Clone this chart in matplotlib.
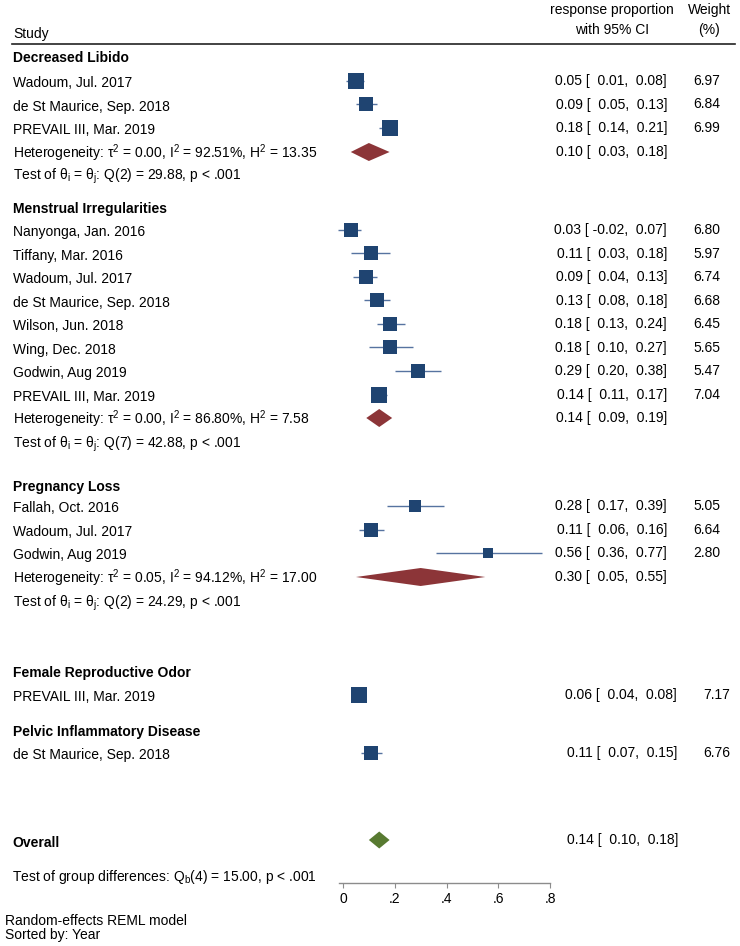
import numpy as np
import matplotlib
matplotlib.use("Agg")
import matplotlib.pyplot as plt
from matplotlib.transforms import blended_transform_factory

plt.rcParams['font.family'] = ['Liberation Sans', 'DejaVu Sans']
plt.rcParams['mathtext.fontset'] = 'custom'
plt.rcParams['mathtext.rm'] = 'Liberation Sans'
plt.rcParams['mathtext.it'] = 'Liberation Sans'
plt.rcParams['mathtext.bf'] = 'Liberation Sans:bold'

# ---------------- data ----------------
group_names = ["Decreased Libido", "Menstrual Irregularities", "Pregnancy Loss",
               "Female Reproductive Odor", "Pelvic Inflammatory Disease"]
study_group = [0, 0, 0, 1, 1, 1, 1, 1, 1, 1, 1, 2, 2, 2, 3, 4]
study_names = ["Wadoum, Jul. 2017", "de St Maurice, Sep. 2018", "PREVAIL III, Mar. 2019",
               "Nanyonga, Jan. 2016", "Tiffany, Mar. 2016", "Wadoum, Jul. 2017",
               "de St Maurice, Sep. 2018", "Wilson, Jun. 2018", "Wing, Dec. 2018",
               "Godwin, Aug 2019", "PREVAIL III, Mar. 2019",
               "Fallah, Oct. 2016", "Wadoum, Jul. 2017", "Godwin, Aug 2019",
               "PREVAIL III, Mar. 2019", "de St Maurice, Sep. 2018"]
study_est = [0.05, 0.09, 0.18, 0.03, 0.11, 0.09, 0.13, 0.18, 0.18, 0.29, 0.14,
             0.28, 0.11, 0.56, 0.06, 0.11]
study_lo = [0.01, 0.05, 0.14, -0.02, 0.03, 0.04, 0.08, 0.13, 0.10, 0.20, 0.11,
            0.17, 0.06, 0.36, 0.04, 0.07]
study_hi = [0.08, 0.13, 0.21, 0.07, 0.18, 0.13, 0.18, 0.24, 0.27, 0.38, 0.17,
            0.39, 0.16, 0.77, 0.08, 0.15]
study_weight = [6.97, 6.84, 6.99, 6.80, 5.97, 6.74, 6.68, 6.45, 5.65, 5.47, 7.04,
                5.05, 6.64, 2.80, 7.17, 6.76]

group_est = [0.10, 0.14, 0.30]
group_lo = [0.03, 0.09, 0.05]
group_hi = [0.18, 0.19, 0.55]
het_tau2 = ["0.00", "0.00", "0.05"]
het_I2 = ["92.51", "86.80", "94.12"]
het_H2 = ["13.35", "7.58", "17.00"]
q_df = [2, 7, 2]
q_stat = ["29.88", "42.88", "24.29"]

overall_est, overall_lo, overall_hi = 0.14, 0.10, 0.18
qb_df, qb_stat = 4, "15.00"

x_ticks = [0, 0.2, 0.4, 0.6, 0.8]
x_tick_labels = ["0", ".2", ".4", ".6", ".8"]

# ---------------- layout (pixel rows) ----------------
W, H = 740, 946
study_row_y = [81, 104.5, 128, 230, 253.5, 277, 300.5, 324, 347.5, 371, 394.5,
               506, 529.5, 553, 695, 753]
group_header_y = [57, 207.5, 486, 672, 731]
summary_row_y = [152, 418, 577]
test_row_y = [176.5, 444, 603]
overall_y = 840
qb_y = 876
axis_y = 883
x0_px, px_per_unit = 343, 258.75

fig = plt.figure(figsize=(W / 100, H / 100), dpi=100)
ax = fig.add_axes([0, 0, 1, 1])
ax.set_xlim(-x0_px / px_per_unit, (W - x0_px) / px_per_unit)
ax.set_ylim(H, 0)
ax.patch.set_visible(False)
for s in ["top", "left", "right"]:
    ax.spines[s].set_visible(False)
ax.yaxis.set_visible(False)
ax.spines["bottom"].set_position(("data", axis_y))
ax.spines["bottom"].set_bounds(-0.015, 0.8)
ax.spines["bottom"].set_color("#8c8c8c")
ax.spines["bottom"].set_linewidth(1.0)
ax.set_xticks(x_ticks)
ax.set_xticklabels(x_tick_labels)
ax.tick_params(axis="x", direction="out", length=3.5, width=0.8, color="#8c8c8c",
               labelsize=10, pad=3)

tr = blended_transform_factory(ax.transAxes, ax.transData)
FS = 10
NAVY = "#1f4471"
CI_COL = "#5673a0"
MAROON = "#8c3538"
GREEN = "#587a31"


def ltext(xpx, y, s, **kw):
    ax.text(xpx / W, y, s, transform=tr, fontsize=FS, va="center", **kw)


# header
ltext(13, 34, "Study")
ltext(612, 10, "response proportion", ha="center")
ltext(612, 30, "with 95% CI", ha="center")
ltext(709, 10, "Weight", ha="center")
ltext(709, 30, "(%)", ha="center")
ax.axhline(44, xmin=12 / W, xmax=735 / W, color="#222222", lw=1.2)


def ci_str(e, l, h):
    return f"{e:.2f} [{l:6.2f}, {h:5.2f}]"


# group headers
for g, name in enumerate(group_names):
    ltext(13, group_header_y[g] + 1, name, fontweight="bold")

# studies
for i in range(len(study_names)):
    g = study_group[i]
    y = study_row_y[i]
    shift = 10 if g >= 3 else 0
    ltext(13, y + 2, study_names[i])
    ax.hlines(y, study_lo[i], study_hi[i], color=CI_COL, lw=1.0, zorder=2)
    side_pt = 5.7 * np.sqrt(study_weight[i]) * 0.72
    ax.scatter([study_est[i]], [y], marker="s", s=side_pt ** 2, color=NAVY,
               linewidths=0, zorder=3)
    ltext(667 + shift, y, ci_str(study_est[i], study_lo[i], study_hi[i]), ha="right")
    ltext(720 + shift, y, f"{study_weight[i]:.2f}", ha="right")

# group summaries
for g in range(len(group_est)):
    y = summary_row_y[g]
    ltext(13, y + 1, "Heterogeneity: τ$^{2}$ = " + het_tau2[g] + ", I$^{2}$ = " + het_I2[g]
          + "%, H$^{2}$ = " + het_H2[g])
    ltext(13, test_row_y[g], "Test of θ$_{i}$ = θ$_{j}$: Q("
          + str(q_df[g]) + ") = " + q_stat[g] + ", p < .001")
    hh = 9
    ax.fill([group_lo[g], group_est[g], group_hi[g], group_est[g]],
            [y, y - hh, y, y + hh], color=MAROON, lw=0, zorder=3)
    ltext(667, y, ci_str(group_est[g], group_lo[g], group_hi[g]), ha="right")

# overall
ltext(12, overall_y + 3, "Overall", fontweight="bold")
hh = 8.5
ax.fill([overall_lo, overall_est, overall_hi, overall_est],
        [overall_y, overall_y - hh, overall_y, overall_y + hh], color=GREEN, lw=0, zorder=3)
ltext(678, overall_y, ci_str(overall_est, overall_lo, overall_hi), ha="right")
ltext(12, qb_y + 1, "Test of group differences: Q$_{b}$(" + str(qb_df) + ") = "
      + qb_stat + ", p < .001")

# notes
ltext(5, 921, "Random-effects REML model")
ltext(5, 935, "Sorted by: Year")

fig.savefig("out.png", dpi=100)
